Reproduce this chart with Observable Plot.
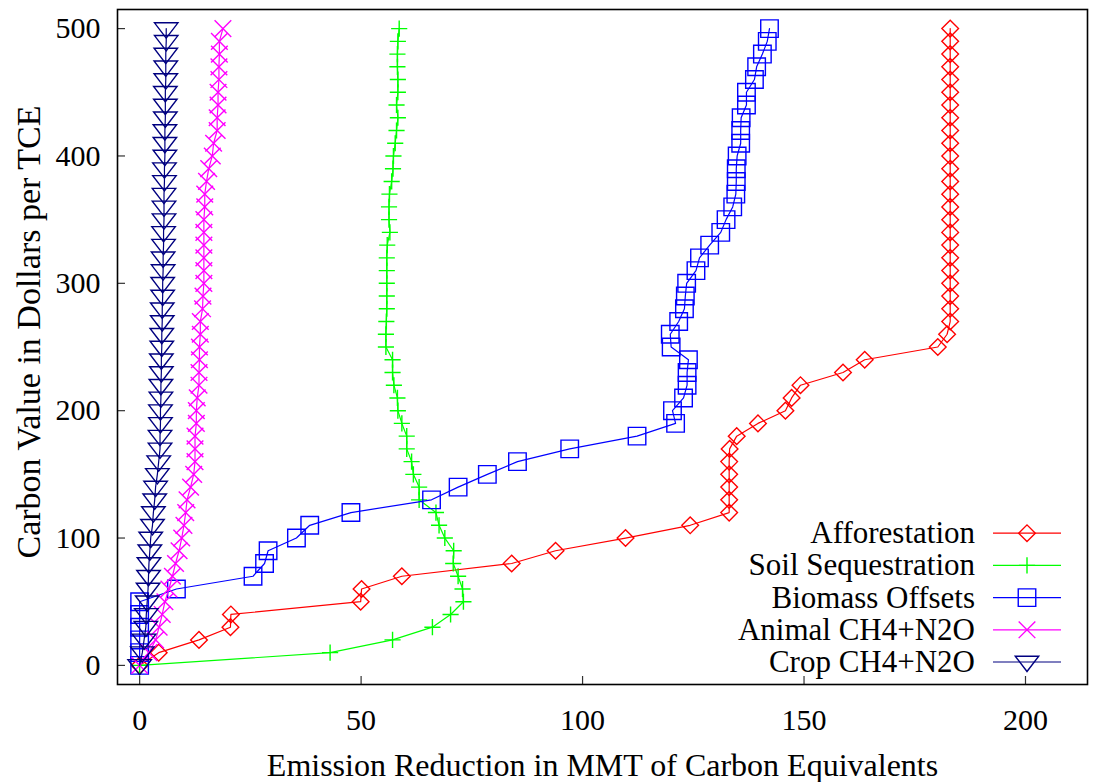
<!DOCTYPE html>
<html><head><meta charset="utf-8">
<script src="https://cdn.jsdelivr.net/npm/d3@7"></script>
<script src="https://cdn.jsdelivr.net/npm/@observablehq/plot@0.6"></script>
<style>body{margin:0;background:#fff;} #chart{width:1094px;height:782px;}</style>
</head><body><div id="chart"></div>
<script>
// ---- data ----
const prices = [0,10,20,30,40,50,60,70,80,90,100,110,120,130,140,150,160,170,180,190,200,
  210,220,230,240,250,260,270,280,290,300,310,320,330,340,350,360,370,380,390,400,
  410,420,430,440,450,460,470,480,490,500];

const afforestation = [0,4.3,13.4,20.5,20.6,49.9,50.1,59.2,84.0,93.9,109.7,124.3,133.1,133.1,133.1,133.1,133.1,133.2,134.8,139.6,145.8,
  147.2,149.2,158.8,163.7,180.2,182.3,183.0,183.0,183.0,183.0,183.0,183.0,183.0,183.0,183.0,183.0,183.0,183.0,183.0,183.0,
  183.0,183.0,183.0,183.0,183.0,183.0,183.0,183.0,183.0,183.0];

const soilSequestration = [0,43.0,57.1,66.1,70.2,73.1,72.9,71.9,70.8,70.9,68.9,67.6,66.9,63.1,63.1,61.8,61.4,60.3,60.3,59.2,58.3,
  58.2,57.4,57.1,57.1,55.6,55.6,55.7,55.8,55.8,55.8,55.8,55.8,55.9,56.5,56.3,56.3,56.4,56.9,57.2,57.3,
  57.7,58.0,58.3,58.0,58.3,58.3,58.2,58.2,58.3,58.6];

const biomassOffsets = [0,0,0,0,0,0,8.3,25.6,28.2,29.0,35.4,38.4,47.7,65.9,71.9,78.5,85.3,97.1,112.3,121.0,120.3,
  122.8,123.6,123.6,123.9,120.0,119.8,121.7,123.0,123.2,123.5,125.6,126.4,128.7,131.2,132.4,133.9,134.6,134.7,134.7,134.9,
  135.7,135.7,135.8,137.0,137.0,138.8,139.3,140.6,141.7,142.2];

const animalCH4N2O = [0,2.1,3.6,4.4,5.1,5.7,6.6,7.4,8.1,8.9,9.5,10.0,10.4,10.7,11.5,12.2,12.5,12.5,12.5,12.8,12.8,
  13.0,13.4,13.4,13.5,13.5,13.7,13.7,14.2,14.3,14.5,14.5,14.5,14.5,14.5,14.5,14.7,14.7,15.1,15.6,16.4,
  16.7,17.5,17.5,17.7,17.7,17.9,17.9,18.0,18.0,18.8];

const cropCH4N2O = [0,0.6,1.0,1.4,1.5,1.7,1.9,2.0,2.1,2.3,2.5,2.9,3.1,3.4,3.6,4.0,4.3,4.6,4.6,4.7,4.7,
  4.8,4.8,4.9,4.9,5.0,5.0,5.1,5.1,5.2,5.2,5.3,5.3,5.4,5.4,5.5,5.5,5.5,5.6,5.6,5.7,
  5.7,5.7,5.8,5.8,5.8,5.9,5.9,5.9,6.0,6.0];

const seriesNames = ["Afforestation", "Soil Sequestration", "Biomass Offsets", "Animal CH4+N2O", "Crop CH4+N2O"];
const seriesValues = [afforestation, soilSequestration, biomassOffsets, animalCH4N2O, cropCH4N2O];
const seriesColors = ["#ff0000", "#00ff00", "#0000ff", "#ff00ff", "#000080"];

const xTicks = [0, 50, 100, 150, 200];
const yTicks = [0, 100, 200, 300, 400, 500];
const xTitle = "Emission Reduction in MMT of Carbon Equivalents";
const yTitle = "Carbon Value in Dollars per TCE";

// ---- marker shapes (gnuplot-like) ----
const R = 8.5;
const rad = s => Math.sqrt(s / Math.PI);
const diamond = {draw(c, s) { const r = rad(s) * 0.98; c.moveTo(0, -r); c.lineTo(r, 0); c.lineTo(0, r); c.lineTo(-r, 0); c.closePath(); }};
const plus = {draw(c, s) { const r = rad(s) * 0.95; c.moveTo(-r, 0); c.lineTo(r, 0); c.moveTo(0, -r); c.lineTo(0, r); }};
const square = {draw(c, s) { const r = rad(s) * 1.03; c.moveTo(-r, -r); c.lineTo(r, -r); c.lineTo(r, r); c.lineTo(-r, r); c.closePath(); }};
const cross = {draw(c, s) { const r = rad(s) * 0.98; c.moveTo(-r, -r); c.lineTo(r, r); c.moveTo(r, -r); c.lineTo(-r, r); }};
const triDown = {draw(c, s) { const r = rad(s); c.moveTo(-1.38 * r, -0.68 * r); c.lineTo(1.38 * r, -0.68 * r); c.lineTo(0, 1.12 * r); c.closePath(); }};
const seriesSymbols = [diamond, plus, square, cross, triDown];

const rows = [];
seriesNames.forEach((name, i) => {
  prices.forEach((p, j) => rows.push({series: name, idx: i, price: p, value: seriesValues[i][j]}));
});

const font = "'Liberation Serif', 'Times New Roman', serif";

const seriesMarks = seriesNames.flatMap((name, i) => {
  const d = rows.filter(r => r.idx === i);
  return [
    Plot.line(d, {x: "value", y: "price", stroke: seriesColors[i], strokeWidth: 1.2}),
    Plot.dot(d, {x: "value", y: "price", stroke: seriesColors[i], fill: "none", strokeWidth: 1.4, r: R, symbol: () => seriesSymbols[i]})
  ];
});

const chart = Plot.plot({
  width: 1094,
  height: 782,
  marginLeft: 117,
  marginRight: 7,
  marginTop: 9,
  marginBottom: 98,
  style: {fontFamily: font, fontSize: "30px", background: "white", color: "black"},
  x: {domain: [-5, 214], label: null},
  y: {domain: [-15, 515], label: null},
  symbol: {type: "identity"},
  marks: [
    Plot.axisX(xTicks, {tickSize: -8, tickPadding: 32, stroke: "#333", strokeWidth: 1.2, fill: "black", fontSize: 30, label: null}),
    Plot.axisY(yTicks, {tickSize: -8, tickPadding: 25, stroke: "#333", strokeWidth: 1.2, fill: "black", fontSize: 30, label: null}),
    ...seriesMarks,
    Plot.frame({stroke: "black", strokeWidth: 1.6}),
    Plot.text([xTitle], {frameAnchor: "bottom", dy: 91, lineAnchor: "bottom", textAnchor: "middle", text: d => d, fontSize: 32, fill: "black"}),
    Plot.text([yTitle], {frameAnchor: "left", dx: -88, dy: -15, rotate: -90, textAnchor: "middle", lineAnchor: "middle", text: d => d, fontSize: 34, fill: "black"})
  ]
});

document.getElementById("chart").appendChild(chart);

// ---- legend inside the plot, bottom right (gnuplot style) ----
const svg = d3.select(chart);
const lg = svg.append("g").attr("class", "legend").style("font-family", font).style("font-size", "31px");
const rowGap = 32.2, lastRowY = 662, textX = 975, sx1 = 993, sx2 = 1061, mx = 1027;
seriesNames.forEach((name, i) => {
  const y = lastRowY - (seriesNames.length - 1 - i) * rowGap;
  const g = lg.append("g");
  g.append("text").attr("x", textX).attr("y", y).attr("dy", "0.32em").attr("text-anchor", "end").attr("fill", "black").text(name);
  g.append("line").attr("x1", sx1).attr("x2", sx2).attr("y1", y).attr("y2", y).attr("stroke", seriesColors[i]).attr("stroke-width", 1.2);
  const p = d3.path();
  seriesSymbols[i].draw(p, Math.PI * R * R);
  g.append("path").attr("d", p.toString()).attr("transform", `translate(${mx},${y})`).attr("fill", "none").attr("stroke", seriesColors[i]).attr("stroke-width", 1.4);
});
</script>
</body></html>
